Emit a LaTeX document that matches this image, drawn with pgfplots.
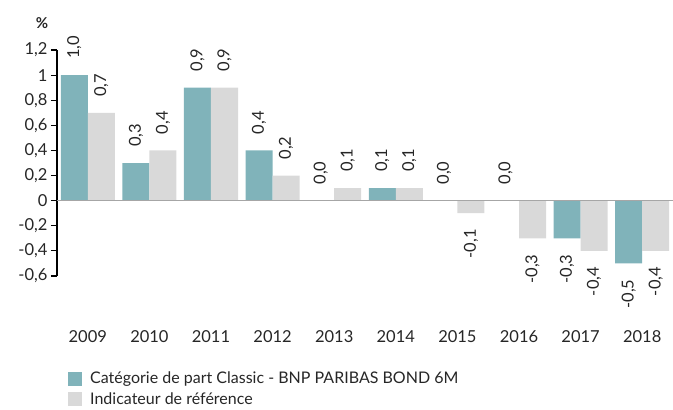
\documentclass[border=0pt]{standalone}
\usepackage{pgfplots}
\pgfplotsset{compat=1.18}
\usepackage{graphicx}
\usepackage{fontspec}
\setmainfont{Lato}
\definecolor{fundcol}{HTML}{80B3BA}
\definecolor{refcol}{HTML}{D9D9D9}
\definecolor{zerocol}{HTML}{A6A6A6}
\definecolor{txt}{HTML}{262626}

\pgfplotstableread{
x fund ref
0  1.0  0.7
1  0.3  0.4
2  0.9  0.9
3  0.4  0.2
4  0.0  0.1
5  0.1  0.1
6  0.0 -0.1
7  0.0 -0.3
8 -0.3 -0.4
9 -0.5 -0.4
}\perf

\begin{document}
\begin{tikzpicture}
\begin{axis}[
  scale only axis, width=616pt, height=226pt,
  ybar=0pt, bar width=27pt,
  xmin=-0.5, xmax=9.5, ymin=-0.6, ymax=1.2,
  axis y line*=left, axis x line*=bottom,
  x axis line style={draw=none},
  y axis line style={black, line width=1.1pt, -},
  xtick={0,...,9},
  xticklabels={2009,2010,2011,2012,2013,2014,2015,2016,2017,2018},
  xtick style={draw=none},
  xticklabel style={yshift=-45pt},
  ytick={-0.6,-0.4,-0.2,0,0.2,0.4,0.6,0.8,1,1.2},
  ytick style={black, line width=1.1pt},
  tick align=outside, major tick length=6pt,
  /pgf/number format/.cd, use comma, 1000 sep={}, assume math mode=true,
  /pgfplots/.cd,
  tick label style={font=\fontsize{16.5}{19}\selectfont, text=txt},
  clip=false,
  nodes near coords={\rotatebox{90}{\pgfmathprintnumber[fixed,fixed zerofill,precision=1,use comma,assume math mode=true]{\pgfplotspointmeta}}},
  every node near coord/.append style={font=\fontsize{16.5}{19}\selectfont, text=txt, inner ysep=16pt},
  legend style={at={(0,0)}, anchor=north west, xshift=8pt, yshift=-92pt,
    draw=none, fill=none, font=\fontsize{16}{19}\selectfont, text=txt,
    row sep=3pt, legend cell align=left,
    nodes={inner xsep=8pt, inner ysep=2pt}},
  legend image code/.code={\fill[#1] (0pt,-7pt) rectangle (14pt,7pt);},
]
\addplot[fill=fundcol, draw=none] table[x=x, y=fund] {\perf};
\addlegendentry{Catégorie de part Classic - BNP PARIBAS BOND 6M}
\addplot[fill=refcol, draw=none] table[x=x, y=ref] {\perf};
\addlegendentry{Indicateur de référence}
\draw[zerocol, line width=1.6pt] (axis cs:-0.5,0) -- (axis cs:9.5,0);
\node[font=\bfseries\fontsize{15}{17}\selectfont, text=txt] at (rel axis cs:0,1) [xshift=-15pt, yshift=27pt] {\%};
\coordinate (bl) at (rel axis cs:0,0);
\end{axis}
\pgfresetboundingbox
\path[use as bounding box] ([xshift=-57pt, yshift=-134pt]bl) rectangle ([xshift=616pt, yshift=276pt]bl);
\end{tikzpicture}
\end{document}
